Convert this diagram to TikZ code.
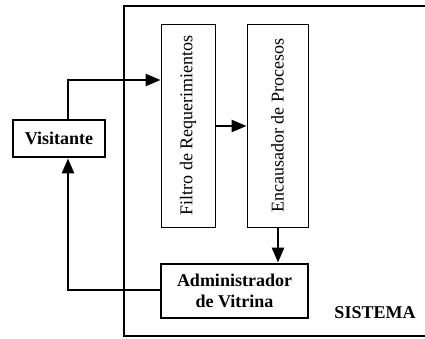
\documentclass[tikz,border=0pt]{standalone}
\usepackage{fontspec}
\setmainfont{Liberation Serif}
\usetikzlibrary{arrows.meta}
\begin{document}
\begin{tikzpicture}[x=1pt,y=1pt,
  thinbox/.style={draw,line width=0.9pt,minimum width=54pt,minimum height=203pt,inner sep=0pt},
  thickbox/.style={draw,line width=2.8pt,inner sep=0pt,font=\fontsize{18}{21}\selectfont\bfseries,align=center},
  vtext/.style={rotate=90,font=\fontsize{18}{21}\selectfont},
  flow/.style={line width=2.5pt,-{Triangle[length=15pt,width=12pt]}}]
\useasboundingbox (0,0) rectangle (425,338);
% system frame, open to the right
\draw[line width=2.2pt] (425,332) -- (124,332) -- (124,2) -- (425,2);
\node[font=\fontsize{18}{21}\selectfont\bfseries] (sis) at (375,25) {SISTEMA};
% blocks
\node[thinbox] (filtro) at (188,212.5) {};
\node[vtext] at (filtro.center) {Filtro de Requerimientos};
\node[thinbox,minimum width=61pt] (enc) at (277.5,212.5) {};
\node[vtext] at (enc.center) {Encausador de Procesos};
\node[thickbox,minimum width=92pt,minimum height=37pt] (vis) at (59,199.5) {Visitante};
\node[thickbox,minimum width=147pt,minimum height=54pt] (adm) at (234.5,47) {Administrador\\de Vitrina};
% connectors
\draw[flow] (vis.north -| 68,0) |- (filtro.west |- 0,258);
\draw[flow] (filtro.east |- 0,212) -- (enc.west |- 0,212);
\draw[flow] (enc.south -| 278,0) -- (adm.north -| 278,0);
\draw[flow] (adm.west |- 0,48) -| (vis.south -| 68,0);
\end{tikzpicture}
\end{document}
